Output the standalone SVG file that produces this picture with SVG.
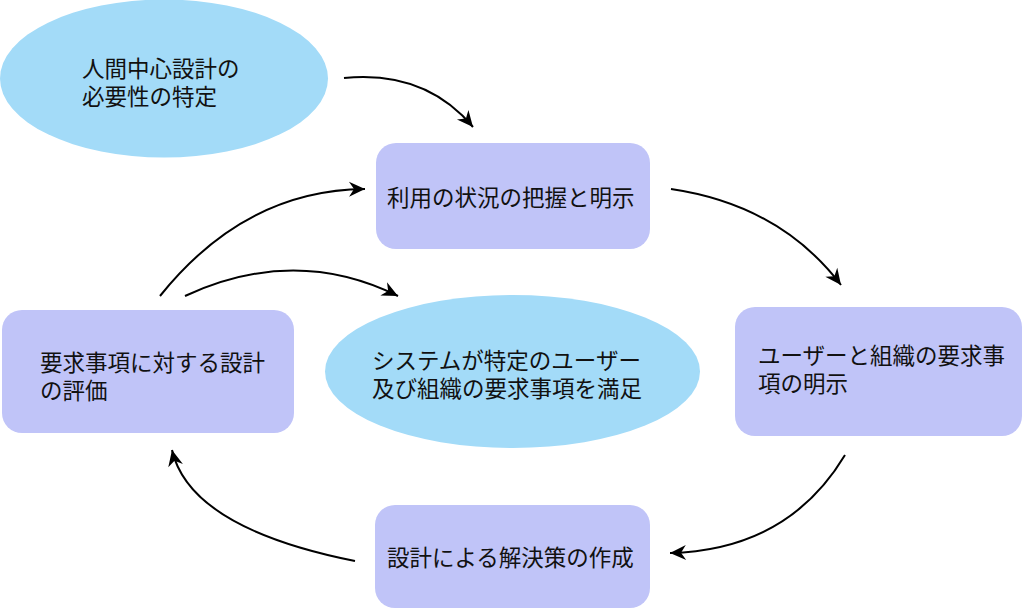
<svg xmlns="http://www.w3.org/2000/svg" width="1024" height="608" viewBox="0 0 1024 608">
<defs>
<style>
.ell{fill:#a3dbf8;}
.box{fill:#c0c4f8;}
text{font-family:"Noto Sans CJK JP","Noto Sans",sans-serif;font-size:22.5px;fill:#111;}
.conn path{fill:none;stroke:#000;stroke-width:2;marker-end:url(#arr);}
</style>
<marker id="arr" viewBox="-17 -8 19 16" markerWidth="19" markerHeight="16" refX="0" refY="0" orient="auto" markerUnits="userSpaceOnUse">
<path d="M0,0 L-16,-7.5 L-11,0 L-16,7.5 Z" fill="#000"/>
</marker>
</defs>
<rect width="1024" height="608" fill="#fff"/>
<g id="n1">
<ellipse class="ell" cx="164" cy="78.5" rx="164" ry="79"/>
<text x="82" y="77">人間中心設計の<tspan x="82" dy="28">必要性の特定</tspan></text>
</g>
<g id="n2">
<rect class="box" x="376" y="143" width="274" height="106" rx="20"/>
<text x="387" y="205.5">利用の状況の把握と明示</text>
</g>
<g id="n3">
<rect class="box" x="735" y="307" width="287" height="129" rx="20"/>
<text x="758" y="363.5">ユーザーと組織の要求事<tspan x="758" dy="28">項の明示</tspan></text>
</g>
<g id="n4">
<rect class="box" x="375" y="505" width="275" height="103" rx="20"/>
<text x="387" y="565.5">設計による解決策の作成</text>
</g>
<g id="n5">
<rect class="box" x="2" y="310" width="292" height="123" rx="20"/>
<text x="40" y="370.5">要求事項に対する設計<tspan x="40" dy="28">の評価</tspan></text>
</g>
<g id="n6">
<ellipse class="ell" cx="512.5" cy="371.5" rx="187.5" ry="76.5"/>
<text x="372" y="368.5">システムが特定のユーザー<tspan x="372" dy="28">及び組織の要求事項を満足</tspan></text>
</g>
<g id="connectors" class="conn">
<path d="M344,78 Q425,70 473,127"/>
<path d="M671,189 Q780,205 841,285"/>
<path d="M845,455 Q788,550 670,553"/>
<path d="M355,561 Q190,528 172,450"/>
<path d="M160,296 Q245,190 365,189"/>
<path d="M185,296 Q295,245 398,296"/>
</g>
</svg>
